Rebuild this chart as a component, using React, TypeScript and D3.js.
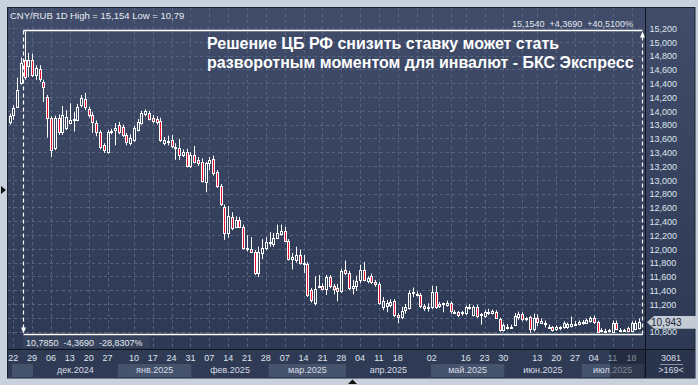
import React, { useEffect, useRef } from 'react';
import * as d3 from 'd3';

// CNY/RUB daily candles, 22.11.2024 .. 22.07.2025
const open = [
  13.84, 13.94, 14.06, 14.40, 14.74, 14.65, 14.74, 14.52, 14.60, 14.42,
  14.20, 13.90, 13.46, 13.89, 13.70, 13.75, 13.83, 13.86, 13.87, 14.08,
  14.17, 14.03, 13.94, 13.82, 13.69, 13.50, 13.40, 13.70, 13.72, 13.79,
  13.77, 13.65, 13.54, 13.58, 13.72, 13.83, 13.96, 13.97, 13.90, 13.88,
  13.85, 13.53, 13.56, 13.57, 13.48, 13.46, 13.36, 13.40, 13.20, 13.36,
  13.29, 13.26, 12.97, 13.24, 13.30, 13.11, 12.91, 12.61, 12.23, 12.46,
  12.32, 12.42, 12.32, 12.01, 12.00, 11.95, 11.65, 11.94, 12.01, 12.08,
  12.07, 12.16, 12.22, 12.26, 12.11, 11.85, 11.84, 11.91, 11.80, 11.78,
  11.40, 11.21, 11.44, 11.46, 11.42, 11.59, 11.46, 11.43, 11.39, 11.69,
  11.65, 11.43, 11.46, 11.55, 11.70, 11.53, 11.60, 11.52, 11.49, 11.16,
  11.17, 11.19, 11.24, 11.04, 11.01, 11.10, 11.14, 11.36, 11.35, 11.33,
  11.17, 11.15, 11.16, 11.38, 11.20, 11.19, 11.18, 11.21, 11.09, 11.08,
  11.06, 11.07, 11.16, 11.04, 11.16, 11.05, 11.03, 11.06, 11.07, 11.09,
  10.98, 10.82, 10.87, 10.86, 10.90, 11.00, 11.06, 10.99, 11.01, 10.84,
  10.99, 10.93, 10.92, 10.87, 10.86, 10.83, 10.86, 10.86, 10.86, 10.88,
  10.90, 10.91, 10.94, 10.93, 10.95, 10.99, 10.94, 10.82, 10.81, 10.82,
  10.80, 10.93, 10.83, 10.82, 10.85, 10.81, 10.84, 10.85,
];
const high = [
  13.96, 14.08, 14.48, 14.77, 15.154, 14.84, 14.83, 14.66, 14.66, 14.45,
  14.23, 13.92, 13.93, 13.95, 14.07, 14.01, 14.11, 13.98, 14.10, 14.23,
  14.26, 14.06, 13.98, 13.86, 13.72, 13.53, 13.72, 13.74, 13.82, 13.84,
  13.80, 13.68, 13.66, 13.78, 13.88, 14.00, 14.02, 14.00, 13.94, 13.92,
  13.90, 13.62, 13.64, 13.65, 13.53, 13.59, 13.44, 13.45, 13.40, 13.49,
  13.33, 13.31, 13.26, 13.33, 13.35, 13.14, 12.94, 12.64, 12.62, 12.53,
  12.47, 12.46, 12.35, 12.20, 12.17, 11.98, 12.03, 12.14, 12.17, 12.24,
  12.23, 12.35, 12.35, 12.32, 12.14, 11.94, 12.03, 11.99, 11.91, 11.81,
  11.43, 11.60, 11.62, 11.50, 11.62, 11.62, 11.49, 11.49, 11.71, 11.83,
  11.68, 11.55, 11.61, 11.77, 11.81, 11.60, 11.64, 11.55, 11.52, 11.30,
  11.26, 11.27, 11.27, 11.07, 11.16, 11.20, 11.40, 11.44, 11.38, 11.36,
  11.20, 11.21, 11.46, 11.46, 11.23, 11.22, 11.25, 11.24, 11.11, 11.10,
  11.10, 11.18, 11.20, 11.18, 11.19, 11.07, 11.11, 11.13, 11.12, 11.11,
  11.00, 10.92, 10.91, 10.90, 11.07, 11.09, 11.08, 11.01, 11.03, 11.06,
  11.05, 10.99, 10.96, 10.90, 10.88, 10.89, 10.88, 10.95, 10.93, 11.02,
  10.95, 10.96, 10.97, 10.99, 11.02, 11.03, 10.96, 10.85, 10.84, 10.84,
  10.96, 10.96, 10.85, 10.84, 10.87, 10.95, 10.96, 10.99,
];
const low = [
  13.80, 13.87, 14.04, 14.38, 14.45, 14.49, 14.49, 14.45, 14.42, 14.13,
  13.61, 13.33, 13.43, 13.65, 13.65, 13.72, 13.82, 13.70, 13.85, 14.05,
  14.01, 13.90, 13.68, 13.63, 13.44, 13.39, 13.38, 13.66, 13.50, 13.66,
  13.62, 13.50, 13.50, 13.55, 13.70, 13.80, 13.92, 13.86, 13.82, 13.80,
  13.55, 13.50, 13.50, 13.46, 13.29, 13.29, 13.33, 13.18, 13.17, 13.24,
  13.20, 12.96, 12.82, 13.14, 13.06, 12.88, 12.62, 12.13, 12.16, 12.27,
  12.30, 12.30, 11.99, 11.96, 11.94, 11.62, 11.59, 11.85, 11.98, 12.03,
  12.03, 12.14, 12.19, 12.10, 11.83, 11.70, 11.80, 11.77, 11.65, 11.30,
  11.22, 11.18, 11.43, 11.40, 11.33, 11.43, 11.34, 11.24, 11.36, 11.62,
  11.40, 11.34, 11.39, 11.50, 11.53, 11.50, 11.49, 11.45, 11.19, 11.11,
  11.08, 11.15, 11.01, 10.92, 10.98, 11.06, 11.12, 11.30, 11.31, 11.14,
  11.10, 11.09, 11.13, 11.13, 11.14, 11.08, 11.16, 11.06, 11.06, 11.01,
  11.03, 11.04, 11.12, 11.02, 11.00, 10.90, 11.00, 11.04, 11.05, 10.99,
  10.80, 10.80, 10.83, 10.84, 10.88, 10.97, 10.95, 10.95, 10.785, 10.80,
  10.88, 10.91, 10.86, 10.84, 10.80, 10.81, 10.82, 10.84, 10.84, 10.86,
  10.88, 10.89, 10.90, 10.91, 10.93, 10.91, 10.79, 10.79, 10.79, 10.79,
  10.79, 10.82, 10.80, 10.80, 10.80, 10.80, 10.82, 10.83,
];
const close = [
  13.93, 14.04, 14.30, 14.69, 14.50, 14.74, 14.52, 14.62, 14.45, 14.35,
  13.90, 13.43, 13.89, 13.68, 13.94, 13.91, 13.87, 13.88, 14.06, 14.18,
  14.06, 13.94, 13.84, 13.69, 13.47, 13.43, 13.69, 13.71, 13.75, 13.69,
  13.65, 13.55, 13.61, 13.75, 13.84, 13.97, 14.00, 13.89, 13.86, 13.83,
  13.58, 13.58, 13.55, 13.48, 13.46, 13.36, 13.40, 13.20, 13.36, 13.26,
  13.25, 12.98, 13.24, 13.28, 13.10, 12.90, 12.65, 12.24, 12.48, 12.30,
  12.42, 12.32, 12.01, 11.99, 11.95, 11.65, 11.95, 12.01, 12.10, 12.10,
  12.16, 12.23, 12.26, 12.11, 11.85, 11.88, 11.91, 11.80, 11.78, 11.33,
  11.26, 11.42, 11.46, 11.42, 11.59, 11.46, 11.41, 11.39, 11.68, 11.65,
  11.43, 11.46, 11.53, 11.69, 11.56, 11.58, 11.52, 11.49, 11.21, 11.24,
  11.21, 11.23, 11.04, 11.01, 11.10, 11.15, 11.36, 11.38, 11.34, 11.17,
  11.14, 11.16, 11.38, 11.16, 11.17, 11.21, 11.21, 11.09, 11.08, 11.04,
  11.08, 11.16, 11.14, 11.16, 11.03, 11.03, 11.09, 11.08, 11.10, 11.01,
  10.82, 10.89, 10.86, 10.87, 11.03, 11.05, 10.99, 10.98, 10.84, 11.00,
  10.93, 10.96, 10.91, 10.86, 10.81, 10.86, 10.84, 10.92, 10.91, 10.91,
  10.91, 10.94, 10.93, 10.97, 10.99, 10.93, 10.80, 10.81, 10.80, 10.80,
  10.93, 10.84, 10.82, 10.81, 10.81, 10.93, 10.93, 10.943,
];

// weekly date labels (candle index -> day)
const tickIdx = [1, 6, 11, 16, 21, 26, 33, 38, 43, 48, 53, 58, 63, 68, 73, 78, 83, 88,
  93, 98, 103, 112, 121, 126, 131, 140, 145, 150, 155, 160, 165];
const tickLabels = ['22', '29', '06', '13', '20', '27', '10', '17', '24', '31', '07', '14',
  '21', '28', '07', '14', '21', '28', '04', '11', '18', '02', '16', '23', '30', '13', '20',
  '27', '04', '11', '18'];
const extraGridIdx = [108, 117, 136];

const monthLabels = ['', 'дек.2024', 'янв.2025', 'фев.2025', 'мар.2025', 'апр.2025', 'май.2025', 'июн.2025', 'июл.2025'];
const monthStart = [-0.5, 6.5, 28.5, 48.5, 68.5, 89.5, 111.5, 131.5, 151.5];
const monthEnd = [6.5, 28.5, 48.5, 68.5, 89.5, 111.5, 131.5, 151.5, 168.5];

// price grid; 11,000 sits under the last-price box, so it gets a line but no text
const priceTicks = [10.8, 11.0, 11.2, 11.4, 11.6, 11.8, 12.0, 12.2, 12.4, 12.6, 12.8, 13.0,
  13.2, 13.4, 13.6, 13.8, 14.0, 14.2, 14.4, 14.6, 14.8, 15.0, 15.2];
const hiddenTick = 11.0;

const lastPrice = 10.943;
const hiIdx = 4, hiVal = 15.154, loVal = 10.785;
const measureTop = '15,1540  +4,3690  +40,5100%';
const measureBottom = '10,7850  -4,3690  -28,8307%';

const FONT = '"Liberation Sans", Arial, sans-serif';

function App() {
  const ref = useRef<SVGSVGElement>(null);

  useEffect(() => {
    const svg = d3.select(ref.current);
    svg.selectAll('*').remove();

    const plotL = 8, plotR = 645, plotT = 8, plotB = 349;
    const panelR = 695, panelB = 378;

    const x = d3.scaleLinear().domain([0, 167]).range([9.5, 9.5 + 3.77 * 167]);
    const y = d3.scaleLinear().domain([10.8, 15.2]).range([331.6, 28]);
    const fmt = (v: number, d = 3) => v.toFixed(d).replace('.', ',');

    const defs = svg.append('defs');
    const grad = defs.append('linearGradient').attr('id', 'bg').attr('x1', 0).attr('y1', 0).attr('x2', 0).attr('y2', 1);
    grad.append('stop').attr('offset', '0%').attr('stop-color', '#404c69');
    grad.append('stop').attr('offset', '100%').attr('stop-color', '#2c3752');
    defs.append('clipPath').attr('id', 'plotclip').append('rect')
      .attr('x', plotL).attr('y', plotT).attr('width', plotR - plotL).attr('height', plotB - plotT);

    // frame
    svg.append('rect').attr('width', 698).attr('height', 385).attr('fill', '#c8d1dc');
    svg.append('rect').attr('x', 7.5).attr('y', 7.5).attr('width', panelR - 7.5).attr('height', panelB - 7.5)
      .attr('fill', 'url(#bg)').attr('stroke', '#1a2130');
    svg.append('rect').attr('x', plotL).attr('y', plotB + 1).attr('width', plotR - plotL).attr('height', panelB - plotB - 1)
      .attr('fill', '#2f3a54');
    svg.append('rect').attr('x', plotR + 1).attr('y', plotB + 1).attr('width', panelR - plotR - 1).attr('height', panelB - plotB - 1)
      .attr('fill', '#2a344c');

    // month boxes
    const mb = svg.append('g');
    monthLabels.forEach((m, i) => {
      const x0 = Math.max(12, x(monthStart[i]) + 1), x1 = Math.min(plotR, x(monthEnd[i]) - 1);
      if (i % 2 === 0) {
        mb.append('rect').attr('x', x0).attr('y', 364).attr('width', x1 - x0).attr('height', 13).attr('fill', '#46536d');
      }
      if (m) {
        mb.append('text').attr('x', (x(monthStart[i]) + x(monthEnd[i])) / 2).attr('y', 373)
          .attr('text-anchor', 'middle').attr('font-size', 9).attr('fill', '#d6dce6').text(m);
      }
    });

    // grid
    const grid = svg.append('g').attr('stroke', '#56647f').attr('stroke-dasharray', '3,3').attr('stroke-width', 1);
    priceTicks.forEach(v => {
      const yy = Math.round(y(v)) + 0.5;
      grid.append('line').attr('x1', plotL).attr('x2', plotR).attr('y1', yy).attr('y2', yy);
    });
    tickIdx.concat(extraGridIdx).forEach(i => {
      const xx = Math.round(x(i)) + 0.5;
      grid.append('line').attr('x1', xx).attr('x2', xx).attr('y1', plotT).attr('y2', plotB);
    });

    // day labels
    svg.append('g').selectAll('text').data(tickIdx).enter().append('text')
      .attr('x', d => x(d)).attr('y', 361).attr('text-anchor', 'middle')
      .attr('font-size', 9).attr('fill', '#dfe5ee')
      .text((d, i) => tickLabels[i]);

    // dim overlay on the latest part of the date axis
    svg.append('rect').attr('x', 610).attr('y', plotB + 1).attr('width', plotR - 610).attr('height', panelB - plotB - 1)
      .attr('fill', '#151b28').attr('opacity', 0.45);

    // measurement box text background
    svg.append('rect').attr('x', 23).attr('y', 336).attr('width', 127).attr('height', 12).attr('fill', '#36425c');

    // candles
    const cg = svg.append('g').attr('clip-path', 'url(#plotclip)');
    const idx = d3.range(open.length);
    const candle = cg.selectAll('g.c').data(idx).enter().append('g');
    candle.append('line')
      .attr('x1', i => Math.round(x(i)) + 0.5).attr('x2', i => Math.round(x(i)) + 0.5)
      .attr('y1', i => y(high[i])).attr('y2', i => y(low[i]))
      .attr('stroke', '#ffffff').attr('stroke-width', 1);
    candle.append('rect')
      .attr('x', i => Math.round(x(i)) - 0.5).attr('width', 2)
      .attr('y', i => Math.round(y(Math.max(open[i], close[i]))) + 0.5)
      .attr('height', i => Math.max(1, Math.round(Math.abs(y(open[i]) - y(close[i])))))
      .attr('fill', i => close[i] >= open[i] ? '#36425e' : '#e8102e')
      .attr('stroke', '#ffffff').attr('stroke-width', 1);

    // measurement overlay
    const mx0 = Math.round(x(hiIdx)) - 1.5, mx1 = Math.round(x(167)) + 3.5;
    const yHi = Math.round(y(hiVal)) - 0.5, yLo = Math.round(y(loVal)) + 1.5;
    const ov = svg.append('g').attr('stroke', '#ffffff').attr('stroke-width', 1.2);
    ov.append('line').attr('x1', mx0).attr('x2', mx1).attr('y1', yHi).attr('y2', yHi).attr('stroke-width', 1.5);
    ov.append('line').attr('x1', mx0).attr('x2', mx1).attr('y1', yLo).attr('y2', yLo).attr('stroke-width', 1.5);
    ov.append('line').attr('x1', mx0).attr('x2', mx0).attr('y1', yHi).attr('y2', yLo - 6).attr('stroke-dasharray', '4,3');
    ov.append('line').attr('x1', mx1).attr('x2', mx1).attr('y1', yHi + 6).attr('y2', yLo).attr('stroke-dasharray', '4,3');
    ov.append('path').attr('d', `M${mx0 - 2.5},${yLo - 7} L${mx0 + 2.5},${yLo - 7} L${mx0},${yLo - 1} Z`)
      .attr('fill', '#ffffff').attr('stroke', 'none');
    ov.append('path').attr('d', `M${mx1 - 2.5},${yHi + 7} L${mx1 + 2.5},${yHi + 7} L${mx1},${yHi + 1} Z`)
      .attr('fill', '#ffffff').attr('stroke', 'none');

    svg.append('text').attr('x', 633).attr('y', 26.5).attr('text-anchor', 'end').attr('font-size', 9)
      .attr('fill', '#e4e9f1').style('white-space', 'pre').text(measureTop);
    svg.append('text').attr('x', 26).attr('y', 346).attr('font-size', 9)
      .attr('fill', '#e4e9f1').style('white-space', 'pre').text(measureBottom);

    // header + headline
    svg.append('text').attr('x', 10).attr('y', 18.5).attr('font-size', 9.5).attr('fill', '#e6ebf2')
      .text('CNY/RUB 1D High = 15,154 Low = 10,79');
    const hl = svg.append('g').attr('font-size', 16).attr('font-weight', 'bold').attr('fill', '#ffffff');
    hl.append('text').attr('x', 207).attr('y', 49).text('Решение ЦБ РФ снизить ставку может стать');
    hl.append('text').attr('x', 207).attr('y', 67.5).text('разворотным моментом для инвалют - БКС Экспресс');

    // right axis
    svg.append('g').selectAll('text').data(priceTicks.filter(v => v !== hiddenTick)).enter().append('text')
      .attr('x', 649.5).attr('y', d => y(d) + 3.8).attr('font-size', 9).attr('fill', '#dfe5ee')
      .text(d => d3.format(',.3f')(d).replace('.', ','));

    // last price marker
    const yp = y(lastPrice) + 0.6;
    svg.append('path').attr('d', `M647,${yp} L654,${yp - 6.3} L697,${yp - 6.3} L697,${yp + 6.3} L654,${yp + 6.3} Z`)
      .attr('fill', '#c4cbd5');
    svg.append('text').attr('x', 651).attr('y', yp + 3.6).attr('font-size', 10).attr('fill', '#1c2636')
      .text(fmt(lastPrice, 3));

    // separators
    svg.append('line').attr('x1', plotR + 0.5).attr('x2', plotR + 0.5).attr('y1', 8).attr('y2', panelB).attr('stroke', '#0e131c');
    svg.append('line').attr('x1', 8).attr('x2', panelR).attr('y1', plotB + 0.5).attr('y2', plotB + 0.5).attr('stroke', '#0e131c');

    // corner info
    svg.append('text').attr('x', 671).attr('y', 361).attr('text-anchor', 'middle').attr('font-size', 9).attr('fill', '#d5dbe4').text('3081');
    svg.append('line').attr('x1', 660).attr('x2', 683).attr('y1', 364.5).attr('y2', 364.5).attr('stroke', '#8a95a8');
    svg.append('text').attr('x', 671).attr('y', 373).attr('text-anchor', 'middle').attr('font-size', 9).attr('fill', '#d5dbe4').text('>169<');

    // little navigation arrows on the frame
    svg.append('path').attr('d', 'M1,186 L6,190 L1,194 Z').attr('fill', '#111');
    svg.append('path').attr('d', 'M348,384 L352.5,379.5 L357,384 Z').attr('fill', '#111');
  }, []);

  return (
    <div style={{ position: 'fixed', left: 0, top: 0 }}>
      <svg ref={ref} width={698} height={385} fontFamily={FONT} style={{ display: 'block' }} />
    </div>
  );
}

export default App;
